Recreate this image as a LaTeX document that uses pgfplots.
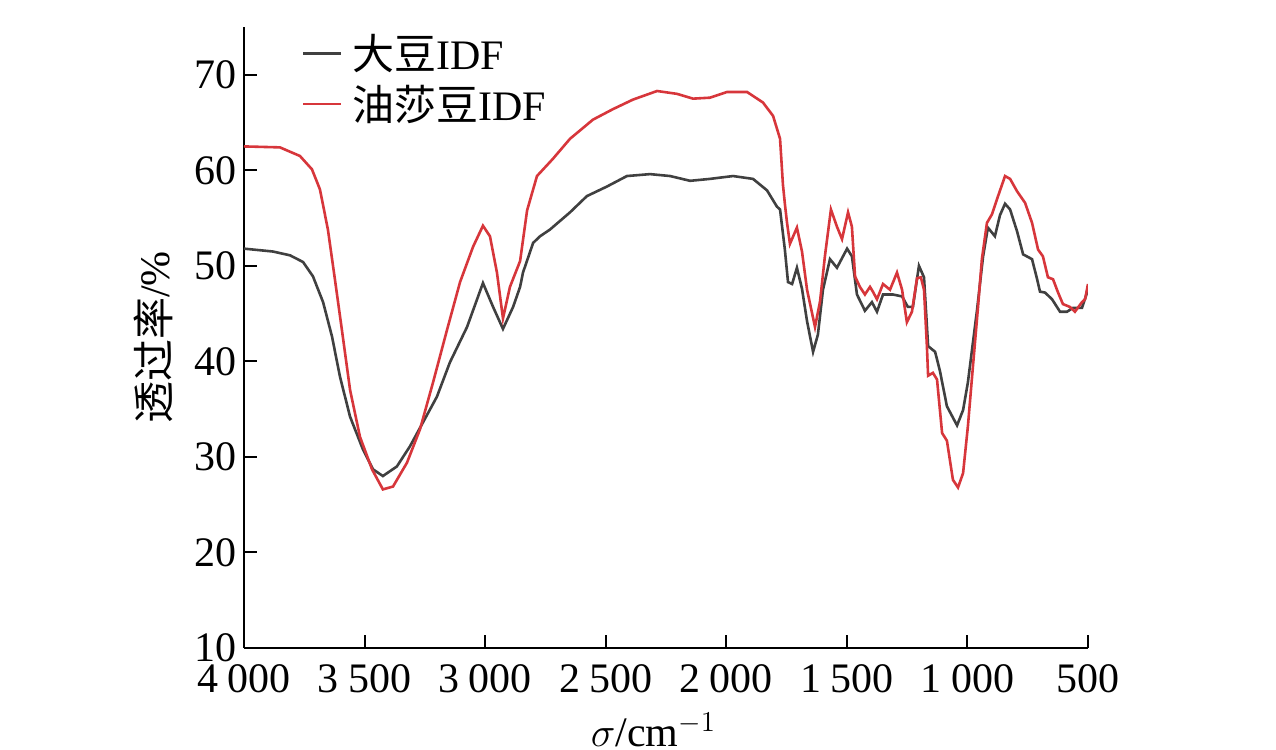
\documentclass[border=0pt]{standalone}
\usepackage{pgfplots}
\pgfplotsset{compat=1.18}
\usepackage{fontspec}
\setmainfont{Liberation Serif}
\newfontfamily\cjk{Noto Sans CJK SC}
\definecolor{cgray}{HTML}{404040}
\definecolor{cred}{HTML}{D7363B}
\begin{document}
\begin{tikzpicture}
\useasboundingbox (0,0) rectangle (638pt,375pt);
\begin{axis}[
  at={(122pt,51pt)}, anchor=south west,
  scale only axis, width=422pt, height=310.5pt,
  x dir=reverse,
  xmin=500, xmax=4000, ymin=10, ymax=75,
  axis x line*=bottom, axis y line*=left,
  axis line style={-, line width=1pt, black},
  tick align=inside, major tick length=6.5pt,
  tick style={line width=1pt, black},
  xtick={4000,3500,3000,2500,2000,1500,1000,500},
  xticklabels={4\hspace{0.22em}000,3\hspace{0.22em}500,3\hspace{0.22em}000,2\hspace{0.22em}500,2\hspace{0.22em}000,1\hspace{0.22em}500,1\hspace{0.22em}000,500},
  ytick={10,20,30,40,50,60,70},
  /pgf/number format/assume math mode=true,
  tick label style={font=\fontsize{21}{24}\selectfont},
  xticklabel style={yshift=-5pt},
  xlabel={$\sigma$/cm$^{-1}$},
  ylabel={{\cjk 透过率}/\%},
  every axis x label/.style={at={(axis description cs:0.485,0)}, anchor=center, yshift=-41pt, font=\fontsize{21}{24}\selectfont},
  every axis y label/.style={at={(axis description cs:-0.107,0.5)}, rotate=90, anchor=center, font=\fontsize{21}{24}\selectfont},
  legend style={at={(axis description cs:0.068,0.995)}, anchor=north west, draw=none, fill=none,
    font=\fontsize{21}{24}\selectfont, row sep=2pt, inner sep=0pt,
    nodes={inner xsep=5pt}},
  legend cell align=left,
  legend image code/.code={\draw[#1, line width=1.3pt] (0pt,0pt) -- (19pt,0pt);},
]
\addplot[cgray, line width=1.3pt] coordinates {
(4000,51.8) (3880,51.5) (3809,51.1) (3755,50.4) (3714,48.9) (3672,46.2) (3635,42.6) (3602,38.4)
(3560,34.2) (3507,30.8) (3465,28.7) (3424,28.0) (3366,29.0) (3312,31.1) (3258,33.6) (3200,36.3)
(3146,39.9) (3075,43.6) (3009,48.2) (2967,45.7) (2926,43.4) (2884,45.7) (2855,47.8) (2843,49.3)
(2801,52.4) (2772,53.1) (2731,53.8) (2648,55.6) (2578,57.3) (2495,58.3) (2412,59.4) (2316,59.6)
(2233,59.4) (2150,58.9) (2068,59.1) (1972,59.4) (1889,59.1) (1831,57.9) (1790,56.2) (1777,55.9)
(1757,51.7) (1744,48.3) (1727,48.1) (1707,49.8) (1686,47.6) (1665,44.2) (1640,41.0) (1620,42.8)
(1599,47.5) (1570,50.7) (1541,49.8) (1499,51.8) (1479,51.0) (1458,47.0) (1425,45.3) (1396,46.2)
(1375,45.2) (1350,47.0) (1309,47.0) (1271,46.8) (1247,45.7) (1226,45.7) (1201,50.0) (1180,48.8)
(1163,41.6) (1134,41.0) (1114,39.0) (1085,35.3) (1043,33.3) (1018,34.9) (998,37.8) (981,41.2)
(960,45.4) (935,51.0) (915,54.0) (886,53.1) (865,55.3) (844,56.5) (823,55.9) (794,53.6)
(769,51.2) (732,50.7) (711,48.6) (699,47.3) (678,47.2) (649,46.5) (616,45.2) (587,45.2)
(562,45.6) (525,45.6) (504,47.2) (500,47.5)
};
\addlegendentry{{\cjk 大豆}IDF}
\addplot[cred, line width=1.3pt] coordinates {
(4000,62.5) (3851,62.4) (3768,61.5) (3718,60.1) (3685,58.0) (3652,53.8) (3623,48.6) (3594,43.3)
(3560,37.0) (3519,32.1) (3469,28.7) (3424,26.6) (3382,26.9) (3324,29.4) (3270,32.9) (3216,37.8)
(3158,43.3) (3104,48.3) (3050,52.0) (3009,54.2) (2980,53.1) (2951,49.3) (2926,44.5) (2897,47.8)
(2855,50.5) (2826,55.8) (2785,59.4) (2719,61.2) (2648,63.3) (2553,65.3) (2470,66.4) (2387,67.4)
(2287,68.3) (2204,68.0) (2138,67.5) (2068,67.6) (1997,68.2) (1914,68.2) (1848,67.1) (1806,65.7)
(1777,63.3) (1765,58.5) (1757,56.5) (1748,54.5) (1736,52.3) (1707,54.0) (1686,51.5) (1665,47.5)
(1632,43.6) (1611,46.3) (1591,51.0) (1566,55.9) (1541,54.1) (1520,52.8) (1495,55.6) (1479,54.1)
(1466,48.9) (1446,47.8) (1425,47.0) (1404,47.8) (1392,47.3) (1375,46.5) (1350,48.1) (1321,47.5)
(1292,49.3) (1271,47.5) (1251,44.1) (1230,45.2) (1209,48.7) (1193,48.8) (1180,47.5) (1168,41.6)
(1163,38.5) (1143,38.8) (1126,38.1) (1105,32.5) (1085,31.7) (1060,27.6) (1039,26.8) (1018,28.3)
(998,33.2) (977,39.5) (956,45.7) (940,50.7) (919,54.5) (898,55.4) (877,57.0) (844,59.4)
(823,59.1) (794,57.8) (761,56.6) (732,54.5) (707,51.7) (687,51.0) (666,48.8) (645,48.6)
(624,47.2) (604,46.0) (575,45.7) (554,45.2) (525,46.2) (512,46.5) (500,48.1)
};
\addlegendentry{{\cjk 油莎豆}IDF}
\end{axis}
\end{tikzpicture}
\end{document}
